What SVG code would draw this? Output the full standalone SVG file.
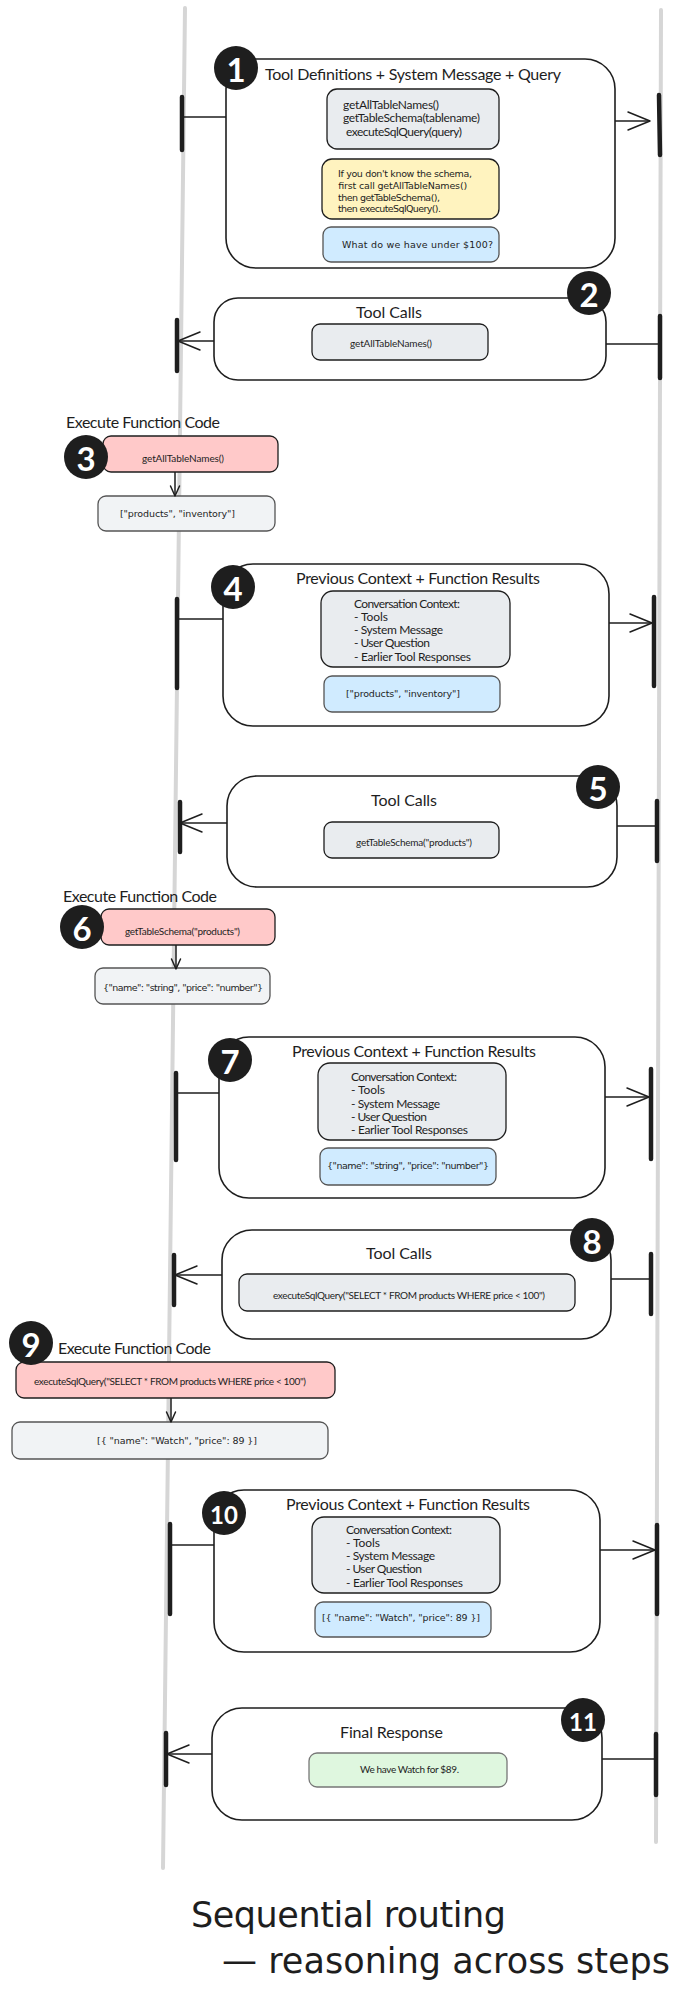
<svg xmlns="http://www.w3.org/2000/svg" width="681" height="1994" viewBox="0 0 681 1994">
<defs>
<marker id="arr" markerUnits="userSpaceOnUse" viewBox="0 0 24 20" markerWidth="24" markerHeight="20" refX="23" refY="10" orient="auto">
<path d="M1,1 L23,10 L1,19" fill="none" stroke="#1e1e1e" stroke-width="1.5" stroke-linecap="round" stroke-linejoin="round"/>
</marker>
<marker id="arrS" markerUnits="userSpaceOnUse" viewBox="0 0 12 12" markerWidth="12" markerHeight="12" refX="11" refY="6" orient="auto">
<path d="M1,1.5 L11,6 L1,10.5" fill="none" stroke="#1e1e1e" stroke-width="1.5" stroke-linecap="round" stroke-linejoin="round"/>
</marker>
</defs>
<style>
.box{fill:#ffffff;stroke:#1e1e1e;stroke-width:1.6}
.gray{fill:#e9ecef;stroke:#1e1e1e;stroke-width:1.3}
.yel{fill:#fff3bf;stroke:#1e1e1e;stroke-width:1.3}
.blue{fill:#d0ebff;stroke:#555555;stroke-width:1.3}
.pink{fill:#ffc9c9;stroke:#1e1e1e;stroke-width:1.3}
.res{fill:#f1f3f5;stroke:#555555;stroke-width:1.3}
.green{fill:#dff7df;stroke:#777777;stroke-width:1.3}
.badge{fill:#1e1e1e}
.num{fill:#ffffff;font-family:Lato,"Noto Sans",sans-serif;font-weight:bold;font-size:33px;text-anchor:middle;dominant-baseline:central}
.num2{fill:#ffffff;font-family:Lato,"Noto Sans",sans-serif;font-weight:bold;font-size:24px;text-anchor:middle;dominant-baseline:central}
.ttl{fill:#1e1e1e;font-family:Lato,"Noto Sans",sans-serif;font-size:16px;dominant-baseline:central}
.t12{fill:#1e1e1e;font-family:Lato,"Noto Sans",sans-serif;font-size:12px;dominant-baseline:central}
.t10{fill:#1e1e1e;font-family:Lato,"Noto Sans",sans-serif;font-size:10px;dominant-baseline:central}
.hw{fill:#1e1e1e;font-family:"DejaVu Sans",sans-serif;font-size:9.5px;dominant-baseline:central}
.big{fill:#1e1e1e;font-family:"DejaVu Sans",sans-serif;font-size:35px}
.lane{fill:none;stroke:#d6d6d6;stroke-width:4;stroke-linecap:round}
.bar{fill:none;stroke:#1e1e1e;stroke-width:4.5;stroke-linecap:round}
.ln{fill:none;stroke:#1e1e1e;stroke-width:1.5}
</style>
<rect x="0" y="0" width="681" height="1994" fill="#ffffff"/>

<g id="lanes">
<path class="lane" d="M185,8 L163,1868"/>
<path class="lane" d="M661,10 L656,1842"/>
</g>

<g id="step1">
<rect class="box" x="226" y="59" width="389" height="209" rx="30"/>
<text class="ttl" x="265" y="73" textLength="296">Tool Definitions + System Message + Query</text>
<rect class="gray" x="327" y="89" width="172" height="60" rx="10"/>
<text class="t12" x="343" y="104" textLength="96">getAllTableNames()</text>
<text class="t12" x="343" y="117" textLength="137">getTableSchema(tablename)</text>
<text class="t12" x="346" y="131" textLength="116">executeSqlQuery(query)</text>
<rect class="yel" x="322" y="159" width="177" height="60" rx="10"/>
<text class="hw" x="338" y="173" textLength="134">If you don't know the schema,</text>
<text class="hw" x="338" y="185" textLength="129">first call getAllTableNames()</text>
<text class="hw" x="338" y="197" textLength="102">then getTableSchema(),</text>
<text class="hw" x="338" y="208" textLength="103">then executeSqlQuery().</text>
<rect class="blue" x="323" y="227" width="176" height="35" rx="8"/>
<text class="hw" x="342" y="244" font-size="10" textLength="151">What do we have under $100?</text>
<circle class="badge" cx="236" cy="68" r="22"/>
<text class="num" x="236" y="69">1</text>
</g>

<g id="step2">
<rect class="box" x="214" y="298" width="392" height="82" rx="24"/>
<text class="ttl" x="356" y="311" textLength="66">Tool Calls</text>
<rect class="gray" x="312" y="324" width="176" height="36" rx="8"/>
<text class="t10" x="350" y="343" textLength="82">getAllTableNames()</text>
<circle class="badge" cx="589" cy="293" r="22"/>
<text class="num" x="589" y="294">2</text>
</g>

<g id="step3">
<text class="ttl" x="66" y="421" textLength="154">Execute Function Code</text>
<rect class="pink" x="103" y="436" width="175" height="36" rx="8"/>
<text class="t10" x="142" y="458" textLength="82">getAllTableNames()</text>
<rect class="res" x="98" y="496" width="177" height="35" rx="8"/>
<text class="hw" x="120" y="513" font-size="10" textLength="115">["products", "inventory"]</text>
<circle class="badge" cx="86" cy="457" r="22"/>
<text class="num" x="86" y="458">3</text>
</g>

<g id="step4">
<rect class="box" x="223" y="564" width="386" height="162" rx="30"/>
<text class="ttl" x="296" y="577" textLength="244">Previous Context + Function Results</text>
<rect class="gray" x="321" y="591" width="189" height="76" rx="12"/>
<text class="t12" x="354" y="603" textLength="106">Conversation Context:</text>
<text class="t12" x="354" y="616" textLength="34">- Tools</text>
<text class="t12" x="354" y="629" textLength="89">- System Message</text>
<text class="t12" x="354" y="642" textLength="76">- User Question</text>
<text class="t12" x="354" y="656" textLength="117">- Earlier Tool Responses</text>
<rect class="blue" x="324" y="676" width="176" height="36" rx="8"/>
<text class="hw" x="346" y="693" font-size="10" textLength="114">["products", "inventory"]</text>
<circle class="badge" cx="233" cy="587" r="22"/>
<text class="num" x="233" y="588">4</text>
</g>

<g id="step5">
<rect class="box" x="227" y="776" width="390" height="111" rx="30"/>
<text class="ttl" x="371" y="799" textLength="66">Tool Calls</text>
<rect class="gray" x="324" y="822" width="175" height="36" rx="8"/>
<text class="t10" x="356" y="842" textLength="116">getTableSchema("products")</text>
<circle class="badge" cx="598" cy="787" r="22"/>
<text class="num" x="598" y="788">5</text>
</g>

<g id="step6">
<text class="ttl" x="63" y="895" textLength="154">Execute Function Code</text>
<rect class="pink" x="101" y="909" width="174" height="36" rx="8"/>
<text class="t10" x="125" y="931" textLength="115">getTableSchema("products")</text>
<rect class="res" x="95" y="968" width="175" height="36" rx="8"/>
<text class="hw" x="103" y="987" font-size="10" textLength="160">{"name": "string", "price": "number"}</text>
<circle class="badge" cx="82" cy="927" r="22"/>
<text class="num" x="82" y="928">6</text>
</g>

<g id="step7">
<rect class="box" x="219" y="1037" width="386" height="161" rx="30"/>
<text class="ttl" x="292" y="1050" textLength="244">Previous Context + Function Results</text>
<rect class="gray" x="318" y="1063" width="188" height="77" rx="12"/>
<text class="t12" x="351" y="1076" textLength="106">Conversation Context:</text>
<text class="t12" x="351" y="1089" textLength="34">- Tools</text>
<text class="t12" x="351" y="1103" textLength="89">- System Message</text>
<text class="t12" x="351" y="1116" textLength="76">- User Question</text>
<text class="t12" x="351" y="1129" textLength="117">- Earlier Tool Responses</text>
<rect class="blue" x="320" y="1148" width="176" height="37" rx="8"/>
<text class="hw" x="327" y="1165" font-size="10" textLength="162">{"name": "string", "price": "number"}</text>
<circle class="badge" cx="230" cy="1060" r="22"/>
<text class="num" x="230" y="1061">7</text>
</g>

<g id="step8">
<rect class="box" x="222" y="1230" width="389" height="109" rx="30"/>
<text class="ttl" x="366" y="1252" textLength="66">Tool Calls</text>
<rect class="gray" x="239" y="1274" width="336" height="37" rx="8"/>
<text class="t10" x="273" y="1295" font-size="9.5" textLength="272">executeSqlQuery("SELECT * FROM products WHERE price &lt; 100")</text>
<circle class="badge" cx="592" cy="1240" r="22"/>
<text class="num" x="592" y="1241">8</text>
</g>

<g id="step9">
<text class="ttl" x="58" y="1347" textLength="153">Execute Function Code</text>
<rect class="pink" x="16" y="1362" width="319" height="36" rx="8"/>
<text class="t10" x="34" y="1381" font-size="9.5" textLength="272">executeSqlQuery("SELECT * FROM products WHERE price &lt; 100")</text>
<rect class="res" x="12" y="1422" width="316" height="37" rx="8"/>
<text class="hw" x="97" y="1440" font-size="10" textLength="160">[{ "name": "Watch", "price": 89 }]</text>
<circle class="badge" cx="31" cy="1343" r="22"/>
<text class="num" x="31" y="1344">9</text>
</g>

<g id="step10">
<rect class="box" x="214" y="1490" width="386" height="162" rx="30"/>
<text class="ttl" x="286" y="1503" textLength="244">Previous Context + Function Results</text>
<rect class="gray" x="312" y="1517" width="188" height="76" rx="12"/>
<text class="t12" x="346" y="1529" textLength="106">Conversation Context:</text>
<text class="t12" x="346" y="1542" textLength="34">- Tools</text>
<text class="t12" x="346" y="1555" textLength="89">- System Message</text>
<text class="t12" x="346" y="1568" textLength="76">- User Question</text>
<text class="t12" x="346" y="1582" textLength="117">- Earlier Tool Responses</text>
<rect class="blue" x="315" y="1602" width="176" height="35" rx="8"/>
<text class="hw" x="322" y="1617" font-size="10" textLength="158">[{ "name": "Watch", "price": 89 }]</text>
<circle class="badge" cx="224" cy="1513" r="22"/>
<text class="num2" x="224" y="1514">10</text>
</g>

<g id="step11">
<rect class="box" x="212" y="1708" width="390" height="112" rx="30"/>
<text class="ttl" x="340" y="1731" textLength="103">Final Response</text>
<rect class="green" x="309" y="1753" width="198" height="34" rx="8"/>
<text class="t10" x="360" y="1769" font-size="11" textLength="99">We have Watch for $89.</text>
<circle class="badge" cx="583" cy="1720" r="22"/>
<text class="num2" x="583" y="1721">11</text>
</g>

<g id="connectors">
<path class="bar" d="M182,97 L182,150"/>
<path class="ln" d="M183,117 L226,117"/>
<path class="ln" d="M615,121 L650,121" marker-end="url(#arr)"/>
<path class="bar" d="M659,95 L660,155"/>

<path class="bar" d="M177,320 L177,371"/>
<path class="ln" d="M214,341 L178,341" marker-end="url(#arr)"/>
<path class="ln" d="M606,344 L658,344"/>
<path class="bar" d="M660,316 L660,378"/>

<path class="ln" d="M175,472 L175,496" marker-end="url(#arrS)"/>

<path class="bar" d="M177,599 L177,688"/>
<path class="ln" d="M178,619 L223,619"/>
<path class="ln" d="M609,623 L652,623" marker-end="url(#arr)"/>
<path class="bar" d="M654,597 L654,686"/>

<path class="bar" d="M180,802 L180,852"/>
<path class="ln" d="M227,823 L180,823" marker-end="url(#arr)"/>
<path class="ln" d="M617,826 L655,826"/>
<path class="bar" d="M657,801 L657,861"/>

<path class="ln" d="M176,945 L176,969" marker-end="url(#arrS)"/>

<path class="bar" d="M176,1073 L176,1160"/>
<path class="ln" d="M177,1093 L219,1093"/>
<path class="ln" d="M605,1097 L649,1097" marker-end="url(#arr)"/>
<path class="bar" d="M651,1069 L651,1159"/>

<path class="bar" d="M174,1255 L174,1305"/>
<path class="ln" d="M222,1275 L175,1275" marker-end="url(#arr)"/>
<path class="ln" d="M611,1279 L649,1279"/>
<path class="bar" d="M651,1254 L651,1314"/>

<path class="ln" d="M171,1398 L171,1422" marker-end="url(#arrS)"/>

<path class="bar" d="M170,1524 L170,1614"/>
<path class="ln" d="M171,1545 L214,1545"/>
<path class="ln" d="M600,1550 L655,1550" marker-end="url(#arr)"/>
<path class="bar" d="M657,1525 L657,1614"/>

<path class="bar" d="M166,1733 L166,1785"/>
<path class="ln" d="M212,1754 L167,1754" marker-end="url(#arr)"/>
<path class="ln" d="M602,1759 L654,1759"/>
<path class="bar" d="M656,1734 L656,1795"/>
</g>

<g id="caption">
<text class="big" x="191" y="1927" textLength="315">Sequential routing</text>
<text class="big" x="222" y="1973" textLength="448">— reasoning across steps</text>
</g>
</svg>
